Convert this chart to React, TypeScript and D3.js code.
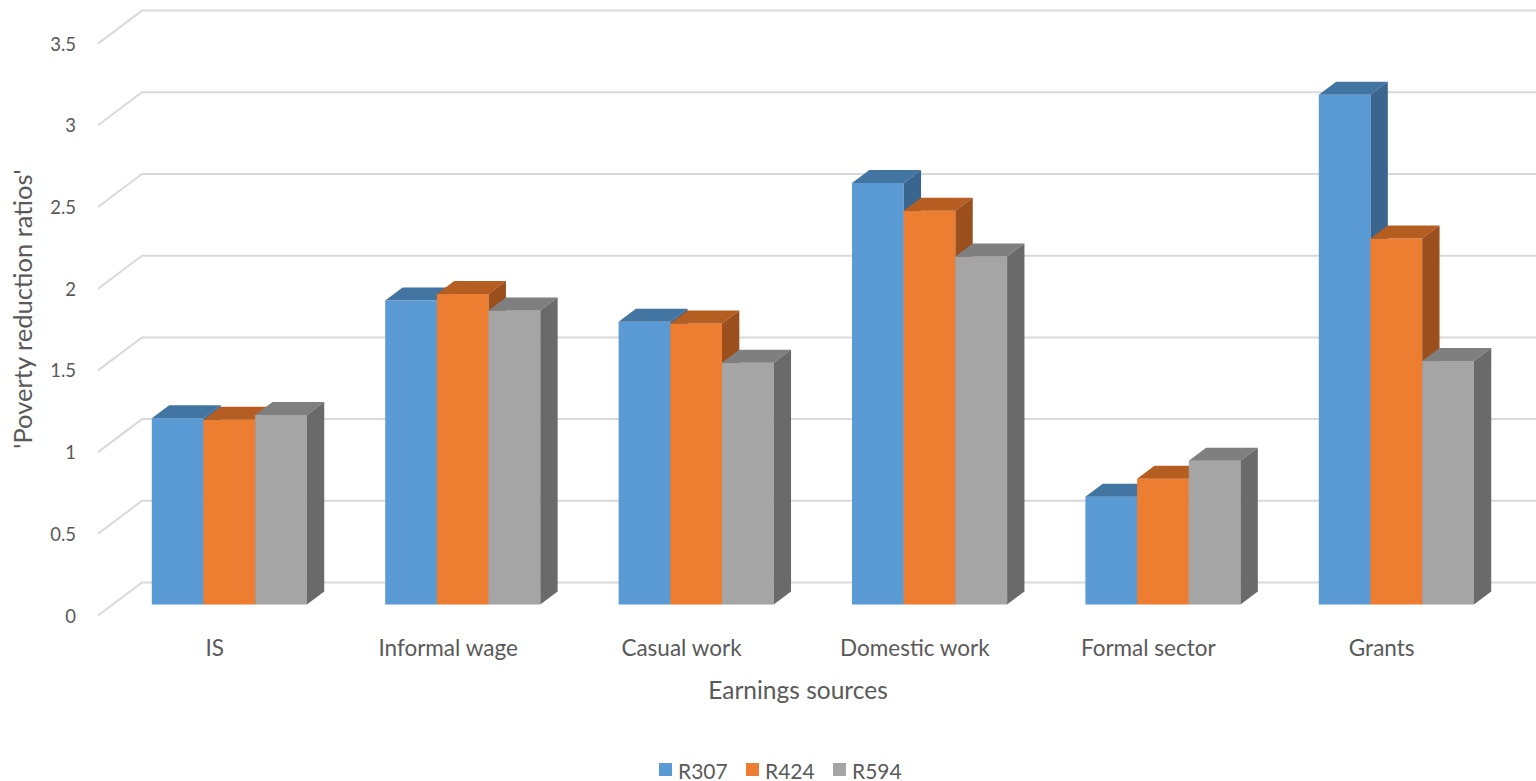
import React from "react";
import * as d3 from "d3";

const categories = ["IS", "Informal wage", "Casual work", "Domestic work", "Formal sector", "Grants"];
const seriesNames = ["R307", "R424", "R594"];
const r307 = [1.14, 1.86, 1.73, 2.58, 0.66, 3.12];
const r424 = [1.13, 1.9, 1.72, 2.41, 0.77, 2.24];
const r594 = [1.16, 1.8, 1.48, 2.13, 0.88, 1.49];
const yTicks = [0, 0.5, 1, 1.5, 2, 2.5, 3, 3.5];

const seriesValues = [r307, r424, r594];
const frontColors = ["#5B9BD5", "#ED7D31", "#A5A5A5"];
const topColors = ["#4375A3", "#B65E22", "#7F7F7F"];
const sideColors = ["#3A658E", "#9B4F1D", "#6A6A6A"];

const W = 1536;
const H = 781;
const FONT = "Lato, 'Open Sans', sans-serif";

export default function App() {
  const x0 = 98;
  const catW = 233.4;
  const y0 = 615.5;
  const depthX = 44;
  const depthY = -33;
  const t1 = 0.333;
  const t2 = 0.727;

  const yScale = d3.scaleLinear().domain([0, 3.5]).range([y0, y0 - 3.5 * 163.4]);
  const xBand = d3
    .scaleBand<string>()
    .domain(categories)
    .range([x0, x0 + catW * categories.length])
    .paddingInner(0.3355)
    .paddingOuter(0.16775);
  const xInner = d3.scaleBand<string>().domain(seriesNames).range([0, xBand.bandwidth()]).padding(0);
  const bw = xInner.bandwidth();

  const fx = depthX * t1;
  const fy = depthY * t1;
  const ddx = depthX * (t2 - t1);
  const ddy = depthY * (t2 - t1);

  const bars: React.ReactNode[] = [];
  categories.forEach((c, ci) => {
    seriesNames.forEach((s, si) => {
      const v = seriesValues[si][ci];
      const x = (xBand(c) as number) + (xInner(s) as number) + fx;
      const bottom = yScale(0) + fy;
      const top = yScale(v) + fy;
      const topPts = [
        [x, top],
        [x + bw, top],
        [x + bw + ddx, top + ddy],
        [x + ddx, top + ddy],
      ];
      const sidePts = [
        [x + bw, top],
        [x + bw + ddx, top + ddy],
        [x + bw + ddx, bottom + ddy],
        [x + bw, bottom],
      ];
      bars.push(
        <g key={c + s}>
          <rect x={x} y={top} width={bw} height={bottom - top} fill={frontColors[si]} />
          <polygon points={topPts.map((p) => p.join(",")).join(" ")} fill={topColors[si]} />
          <polygon points={sidePts.map((p) => p.join(",")).join(" ")} fill={sideColors[si]} />
        </g>
      );
    });
  });

  const legendX = [659, 746, 833];

  return (
    <svg
      width={W}
      height={H}
      style={{ position: "absolute", left: 0, top: 0, background: "#fff" }}
      fontFamily={FONT}
    >
      <rect x={0} y={0} width={W} height={H} fill="#fff" />
      {yTicks.map((t) => (
        <g key={t}>
          <polyline
            points={`${x0},${yScale(t)} ${x0 + depthX},${yScale(t) + depthY} ${W + 10},${yScale(t) + depthY}`}
            fill="none"
            stroke="#D9D9D9"
            strokeWidth={2}
          />
          <text x={76} y={yScale(t)} textAnchor="end" dominantBaseline="central" fontSize={18.5} fill="#595959">
            {t}
          </text>
        </g>
      ))}
      {bars}
      {categories.map((c, ci) => (
        <text
          key={c}
          x={x0 + (ci + 0.5) * catW}
          y={647}
          textAnchor="middle"
          dominantBaseline="central"
          fontSize={22.5}
          fill="#595959"
        >
          {c}
        </text>
      ))}
      <text x={798} y={689} textAnchor="middle" dominantBaseline="central" fontSize={24.5} fill="#595959">
        Earnings sources
      </text>
      <text
        transform={`translate(22,309) rotate(-90)`}
        textAnchor="middle"
        dominantBaseline="central"
        fontSize={25.5}
        fill="#595959"
      >
        'Poverty reduction ratios'
      </text>
      {seriesNames.map((s, si) => (
        <g key={s}>
          <rect x={legendX[si]} y={763} width={13} height={13} fill={frontColors[si]} />
          <text x={legendX[si] + 19} y={770} dominantBaseline="central" fontSize={21} fill="#595959">
            {s}
          </text>
        </g>
      ))}
    </svg>
  );
}
